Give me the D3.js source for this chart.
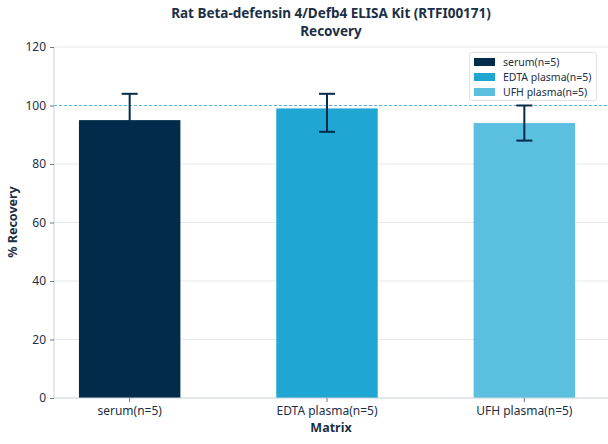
<!DOCTYPE html>
<html><head><meta charset="utf-8">
<script src="https://cdn.jsdelivr.net/npm/d3@7"></script>
<style>body{margin:0;background:#fff}svg{display:block;font-family:"Noto Sans","Open Sans",sans-serif}</style>
</head><body>
<svg id="c" width="608" height="444"></svg>
<script>
const categories = ["serum(n=5)", "EDTA plasma(n=5)", "UFH plasma(n=5)"];
const recovery = [95, 99, 94];
const errLow = [86, 91, 88];
const errHigh = [104, 104, 100];
const colors = ["#012b4b", "#1fa6d2", "#5bbfe0"];
const yTicks = [0, 20, 40, 60, 80, 100, 120];
const refLine = 100;

const svg = d3.select("#c");
const txt = "#1c2f45";
const y = d3.scaleLinear().domain([0, 120]).range([398, 47]);
const x = d3.scaleBand().domain(categories).range([31, 623]).paddingInner(0.486).paddingOuter(0.243);
const left = 54, right = 608;

// grid
svg.append("g").selectAll("line").data(yTicks.filter(d => d > 0)).join("line")
  .attr("x1", left).attr("x2", right).attr("y1", d => y(d)).attr("y2", d => y(d))
  .attr("stroke", "#e5e9ed").attr("stroke-width", 1);

// bars
svg.append("g").selectAll("rect").data(categories).join("rect")
  .attr("x", d => x(d)).attr("width", x.bandwidth())
  .attr("y", (d, i) => y(recovery[i])).attr("height", (d, i) => y(0) - y(recovery[i]))
  .attr("fill", (d, i) => colors[i]);

// reference line
svg.append("line").attr("x1", left).attr("x2", right).attr("y1", y(refLine)).attr("y2", y(refLine))
  .attr("stroke", "#5fb8d0").attr("stroke-width", 1).attr("stroke-dasharray", "3,2");

// error bars
const eb = svg.append("g").attr("stroke", "#062a4a").attr("stroke-width", 2);
categories.forEach((c, i) => {
  const cx = x(c) + x.bandwidth() / 2;
  eb.append("line").attr("x1", cx).attr("x2", cx).attr("y1", y(errLow[i])).attr("y2", y(errHigh[i]));
  eb.append("line").attr("x1", cx - 8).attr("x2", cx + 8).attr("y1", y(errLow[i])).attr("y2", y(errLow[i]));
  eb.append("line").attr("x1", cx - 8).attr("x2", cx + 8).attr("y1", y(errHigh[i])).attr("y2", y(errHigh[i]));
});

// y axis
const ya = svg.append("g").attr("transform", `translate(${left},0)`)
  .call(d3.axisLeft(y).tickValues(yTicks).tickSize(4).tickPadding(4));
ya.select(".domain").attr("stroke", "#c9d1d8").attr("d", `M0,${y(0)}V${y(120)}`);
ya.selectAll(".tick line").attr("stroke", "#6b7a89");
ya.selectAll(".tick text").attr("fill", txt).attr("font-size", 12).attr("font-family", "Noto Sans");

// x axis
const xa = svg.append("g").attr("transform", `translate(0,${y(0)})`)
  .call(d3.axisBottom(x).tickSize(4).tickPadding(4));
xa.select(".domain").attr("stroke", "#c9d1d8").attr("d", `M${left},0H${right}`);
xa.selectAll(".tick line").attr("stroke", "#6b7a89");
xa.selectAll(".tick text").attr("fill", txt).attr("font-size", 12).attr("font-family", "Noto Sans");

// title
svg.append("text").attr("x", 331).attr("y", 18).attr("text-anchor", "middle")
  .attr("font-weight", "bold").attr("font-size", 13.5).attr("fill", txt)
  .text("Rat Beta-defensin 4/Defb4 ELISA Kit (RTFI00171)");
svg.append("text").attr("x", 331).attr("y", 35.5).attr("text-anchor", "middle")
  .attr("font-weight", "bold").attr("font-size", 13.5).attr("fill", txt).text("Recovery");

svg.append("text").attr("x", 331).attr("y", 432).attr("text-anchor", "middle")
  .attr("font-weight", "bold").attr("font-size", 12.5).attr("fill", txt).text("Matrix");
svg.append("text").attr("transform", "translate(17,222) rotate(-90)").attr("text-anchor", "middle")
  .attr("font-weight", "bold").attr("font-size", 12.5).attr("fill", txt).text("% Recovery");

// legend
const lg = svg.append("g");
lg.append("rect").attr("x", 469.5).attr("y", 52.5).attr("width", 127).attr("height", 48).attr("rx", 2)
  .attr("fill", "#fff").attr("fill-opacity", 0.9).attr("stroke", "#dde2e7");
categories.forEach((c, i) => {
  const cy = 62 + i * 15;
  lg.append("rect").attr("x", 474).attr("y", cy - 4).attr("width", 21).attr("height", 8).attr("fill", colors[i]);
  lg.append("text").attr("x", 503).attr("y", cy + 3.5).attr("font-size", 10.5).attr("fill", txt).text(c);
});
</script>
</body></html>
